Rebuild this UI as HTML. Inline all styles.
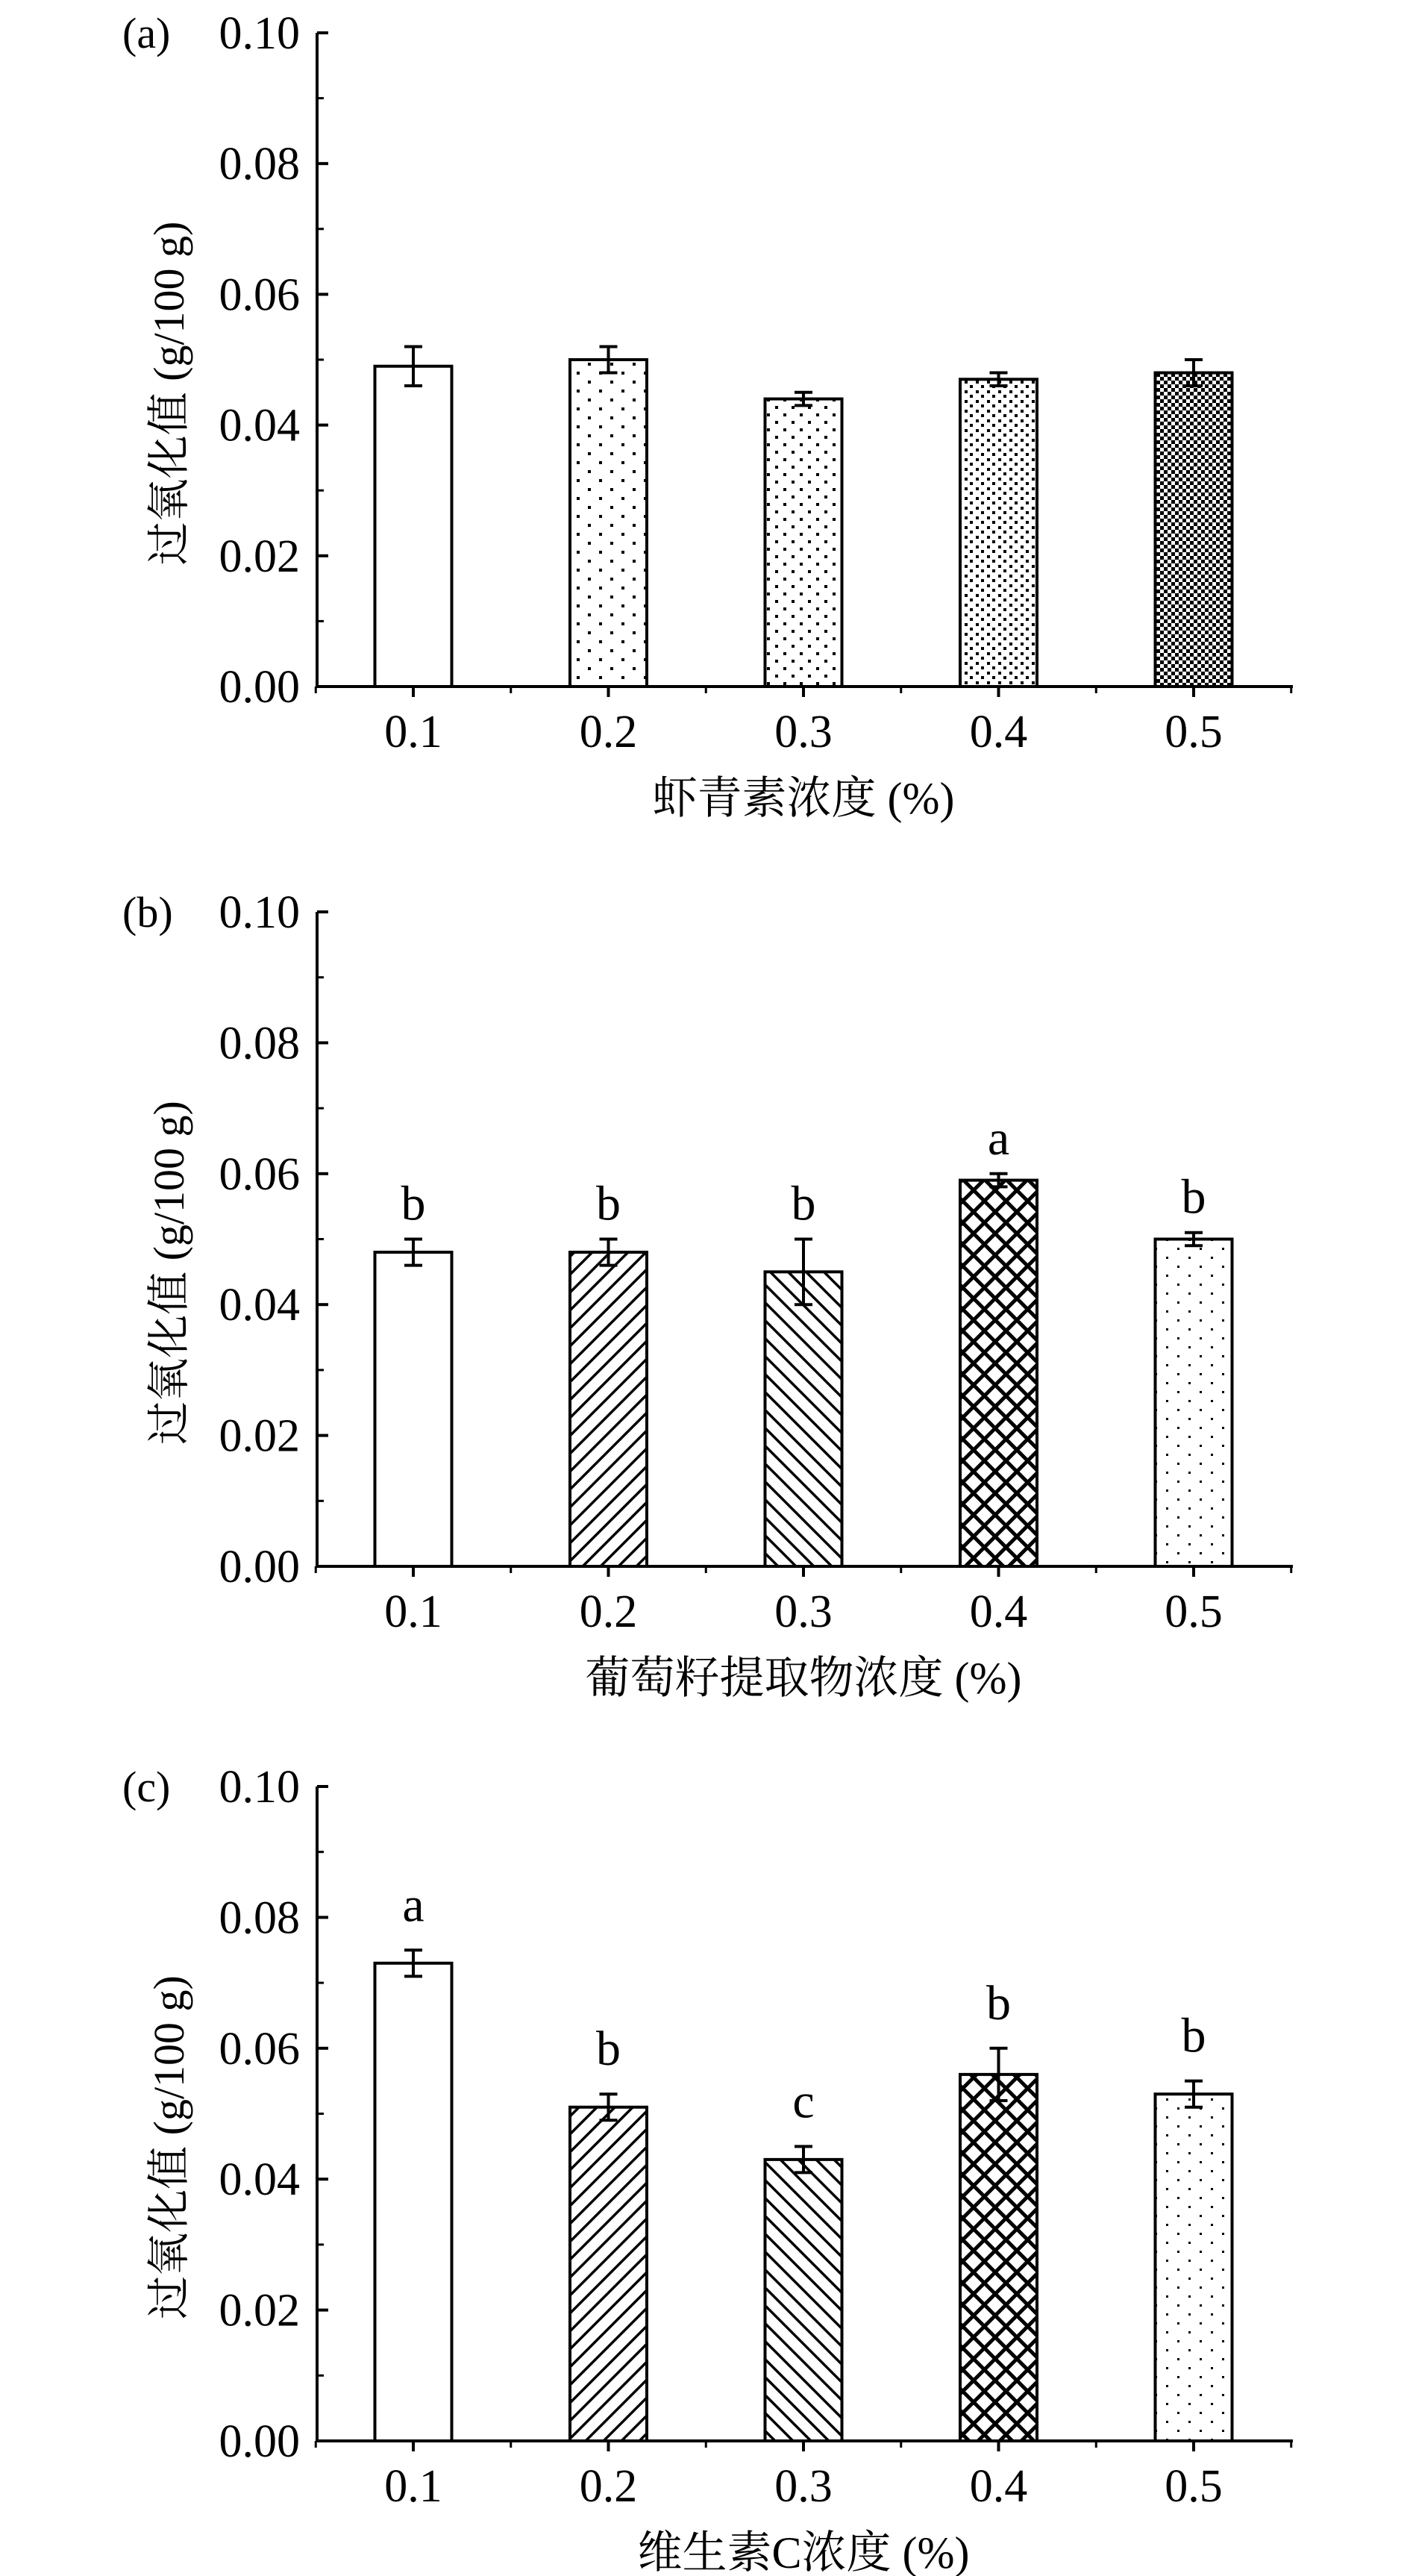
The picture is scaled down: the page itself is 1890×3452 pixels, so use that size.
<!DOCTYPE html>
<html><head><meta charset="utf-8"><style>
html,body{margin:0;padding:0;background:#fff}
svg{display:block}
text{font-family:"Liberation Serif","Noto Serif CJK SC","Noto Sans CJK SC",serif;fill:#000}
</style></head><body>
<svg id="chart" width="1890" height="3452" viewBox="0 0 1890 3452" xmlns="http://www.w3.org/2000/svg">
<defs>
<pattern id="dotsSparse" width="30" height="24" patternUnits="userSpaceOnUse"><rect x="8" y="6" width="4" height="4" fill="#000"/><rect x="23" y="18" width="4" height="4" fill="#000"/></pattern>
<pattern id="dotsMed" width="22" height="20" patternUnits="userSpaceOnUse"><rect x="5" y="4" width="4" height="4" fill="#000"/><rect x="16" y="14" width="4" height="4" fill="#000"/></pattern>
<pattern id="dotsDense" width="15" height="13" patternUnits="userSpaceOnUse"><rect x="3" y="3" width="4" height="4" fill="#000"/><rect x="10" y="9" width="4" height="4" fill="#000"/></pattern>
<pattern id="checker" width="10" height="10" patternUnits="userSpaceOnUse"><rect width="10" height="10" fill="#fff"/><rect x="0" y="0" width="5" height="5" fill="#000"/><rect x="5" y="5" width="5" height="5" fill="#000"/></pattern>
<pattern id="dotsB" width="30" height="24" patternUnits="userSpaceOnUse"><rect x="3" y="4" width="3" height="3" fill="#000"/><rect x="18" y="16" width="3" height="3" fill="#000"/></pattern>
<pattern id="hatchF" width="24" height="24" patternUnits="userSpaceOnUse"><path d="M-6,6 L6,-6 M0,24 L24,0 M18,30 L30,18" stroke="#000" stroke-width="3.5"/></pattern>
<pattern id="hatchB" width="24" height="24" patternUnits="userSpaceOnUse"><path d="M-6,18 L6,30 M0,0 L24,24 M18,-6 L30,6" stroke="#000" stroke-width="3.5"/></pattern>
<pattern id="cross" width="29" height="29" patternUnits="userSpaceOnUse"><path d="M0,0 L29,29 M29,0 L0,29" stroke="#000" stroke-width="5"/></pattern>
</defs>
</svg>
<script>
const categories = ["0.1","0.2","0.3","0.4","0.5"];
const yTicks = [0, 0.02, 0.04, 0.06, 0.08, 0.10];
const yTickLabels = ["0.00","0.02","0.04","0.06","0.08","0.10"];
const valuesA = [0.049, 0.050, 0.044, 0.047, 0.048];
const errorsA = [0.003, 0.002, 0.001, 0.001, 0.002];
const valuesB = [0.048, 0.048, 0.045, 0.059, 0.050];
const errorsB = [0.002, 0.002, 0.005, 0.001, 0.001];
const lettersB = ["b","b","b","a","b"];
const valuesC = [0.073, 0.051, 0.043, 0.056, 0.053];
const errorsC = [0.002, 0.002, 0.002, 0.004, 0.002];
const lettersC = ["a","b","c","b","b"];

const NS = "http://www.w3.org/2000/svg";
const svg = document.getElementById("chart");
function mk(tag, attrs, parent){const e=document.createElementNS(NS,tag);for(const k in attrs)e.setAttribute(k,attrs[k]);(parent||svg).appendChild(e);return e;}

const panels = [
 {id:"a", label:"(a)", top:44, zero:920, values:valuesA, errors:errorsA, letters:null, gap:0,
  fills:["#fff","url(#dotsSparse)","url(#dotsMed)","url(#dotsDense)","url(#checker)"], xtitle:"虾青素浓度 (%)"},
 {id:"b", label:"(b)", top:1222, zero:2099, values:valuesB, errors:errorsB, letters:lettersB, gap:26,
  fills:["#fff","url(#hatchF)","url(#hatchB)","url(#cross)","url(#dotsB)"], xtitle:"葡萄籽提取物浓度 (%)"},
 {id:"c", label:"(c)", top:2394, zero:3271, values:valuesC, errors:errorsC, letters:lettersC, gap:39,
  fills:["#fff","url(#hatchF)","url(#hatchB)","url(#cross)","url(#dotsB)"], xtitle:"维生素C浓度 (%)"}
];
const axisX = 425, axisRight = 1733, x0 = 554, step = 261.5, barW = 103, yMax = 0.10;

panels.forEach(p=>{
  const g = mk("g",{});
  
  
  const yS = v => p.zero - (v / yMax) * (p.zero - p.top);
  const xS = i => x0 + i*step;
  p.values.forEach((v,i)=>{
    const r = mk("rect",{x:xS(i)-barW/2, y:yS(v), width:barW, height:p.zero-yS(v), fill:p.fills[i], stroke:"#000","stroke-width":4},g);
    
    
    const e = p.errors[i], cx = xS(i);
    const eb = mk("path",{d:`M${cx},${yS(v+e)}V${yS(v-e)}M${cx-12},${yS(v+e)}H${cx+12}M${cx-12},${yS(v-e)}H${cx+12}`, stroke:"#000","stroke-width":4, fill:"none"},g);
    
    
    if(p.letters){
      const t = mk("text",{x:cx, y:yS(v+e)-p.gap, "text-anchor":"middle","font-size":66},g);
      t.textContent = p.letters[i];
      
      
    }
  });
  const ax = mk("path",{d:`M${axisX},${p.top}V${p.zero}H${axisRight}`, stroke:"#000","stroke-width":4, fill:"none"},g);
  
  
  yTicks.forEach((t,i)=>{
    mk("line",{x1:axisX,x2:axisX+15,y1:yS(t),y2:yS(t),stroke:"#000","stroke-width":4},g);
    if(i<yTicks.length-1) mk("line",{x1:axisX,x2:axisX+9,y1:yS(t+0.01),y2:yS(t+0.01),stroke:"#000","stroke-width":3},g);
    const tl = mk("text",{x:402, y:yS(t)+21, "text-anchor":"end","font-size":62},g);
    tl.textContent = yTickLabels[i];
    
    
  });
  categories.forEach((c,i)=>{
    mk("line",{x1:xS(i),x2:xS(i),y1:p.zero,y2:p.zero+14,stroke:"#000","stroke-width":4},g);
    mk("line",{x1:xS(i)+step/2,x2:xS(i)+step/2,y1:p.zero,y2:p.zero+9,stroke:"#000","stroke-width":3},g);
    const xl = mk("text",{x:xS(i), y:p.zero+81, "text-anchor":"middle","font-size":62},g);
    xl.textContent = c;
    
    
  });
  mk("line",{x1:xS(0)-step/2,x2:xS(0)-step/2,y1:p.zero,y2:p.zero+9,stroke:"#000","stroke-width":3},g);
  const xt = mk("text",{x:1077, y:p.zero+170, "text-anchor":"middle","font-size":60},g);
  xt.textContent = p.xtitle;
  
  
  const cy = (p.top+p.zero)/2 + 45;
  const yt = mk("text",{x:0,y:0,"text-anchor":"middle","font-size":58,transform:`translate(246,${cy}) rotate(-90)`},g);
  yt.textContent = "过氧化值 (g/100 g)";
  
  
  const pl = mk("text",{x:164, y:p.top+20, "font-size":58},g);
  pl.textContent = p.label;
  
  
});
</script>
</body></html>
